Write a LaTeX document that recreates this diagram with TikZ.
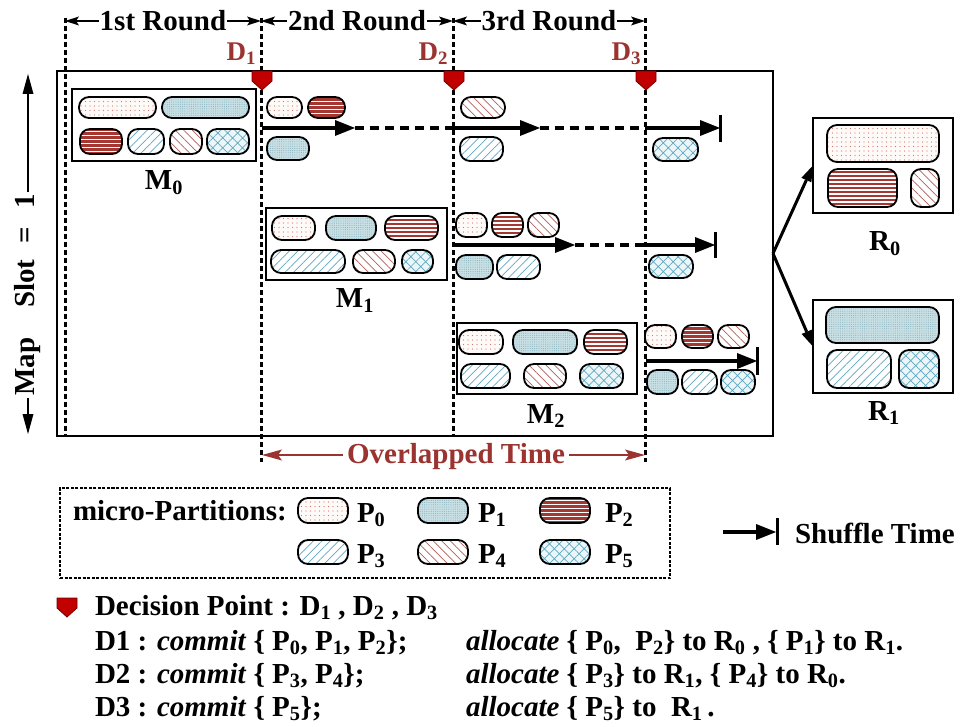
\documentclass[tikz,border=0pt]{standalone}
\usepackage{fontspec}
\setmainfont{Liberation Serif}
\usetikzlibrary{arrows.meta,patterns.meta}

\definecolor{dred}{RGB}{155,52,48}
\definecolor{mred}{RGB}{195,0,0}
\definecolor{mredd}{RGB}{110,0,0}
\definecolor{pdot}{RGB}{205,120,115}
\definecolor{pbgzero}{RGB}{254,250,248}
\definecolor{pbgone}{RGB}{200,223,228}
\definecolor{pdotone}{RGB}{120,168,180}
\definecolor{pstripe}{RGB}{165,55,50}
\definecolor{pblue}{RGB}{95,168,192}
\definecolor{predl}{RGB}{178,95,90}
\definecolor{pbgfive}{RGB}{236,246,249}

\newcommand\fbig{\fontsize{29}{34}\selectfont\bfseries}
\newcommand\fdl{\fontsize{27}{32}\selectfont\bfseries}

\tikzset{
 pill/.style={draw=black, line width=1.8pt, inner sep=0pt, outer sep=0pt, rounded corners=10pt},
 pzero/.style={pill, preaction={fill=pbgzero}, pattern={Dots[distance=4.5pt,radius=0.6pt]}, pattern color=pdot},
 pone/.style={pill, preaction={fill=pbgone}, pattern={Dots[distance=2.2pt,radius=0.45pt]}, pattern color=pdotone},
 ptwo/.style={pill, fill=white, path picture={
   \foreach \k in {-24,-20,...,24}
     \draw[pstripe, line width=2.1pt] ([yshift=\k pt]path picture bounding box.west) -- ([yshift=\k pt]path picture bounding box.east);}},
 pthree/.style={pill, preaction={fill=white}, pattern={Lines[angle=45,distance=6pt,line width=0.7pt]}, pattern color=pblue},
 pfour/.style={pill, preaction={fill=white}, pattern={Lines[angle=-45,distance=6pt,line width=0.7pt]}, pattern color=predl},
 pfive/.style={pill, preaction={fill=pbgfive}, pattern={Hatch[angle=45,distance=7pt,line width=0.7pt]}, pattern color=pblue},
 mbox/.style={draw=black, line width=1.3pt, inner sep=0pt, outer sep=0pt},
 vdash/.style={line width=3pt, dash pattern=on 5pt off 3pt},
 sarrow/.style={line width=4pt, -{Triangle[length=20pt,width=16pt,line width=0pt]}},
 darrow/.style={line width=4pt, dash pattern=on 9pt off 6pt},
 barline/.style={line width=3pt},
 rndarrow/.style={line width=2pt, -{Stealth[length=14pt,width=9pt,inset=3pt,line width=0pt]}},
 ovarrow/.style={draw=dred, line width=2pt, -{Stealth[length=20pt,width=11pt,inset=4pt,line width=0pt]}},
 rarrow/.style={line width=3pt, -{Triangle[length=16pt,width=11pt,line width=0pt]}},
 msarrow/.style={line width=2pt, -{Triangle[length=20pt,width=11pt,line width=0pt]}},
 dmark/.style={fill=mred, draw=mredd, line width=0.8pt},
 lbl/.style={inner sep=0pt, outer sep=0pt},
}

\newcommand\pl[6]{\node[#1, minimum width={(#4-#2)*1pt}, minimum height={(#5-#3)*1pt}] (#6) at ({(#2+#4)/2},{(#3+#5)/2}) {};}
\newcommand\bx[5]{\node[mbox, minimum width={(#3-#1)*1pt}, minimum height={(#4-#2)*1pt}] (#5) at ({(#1+#3)/2},{(#2+#4)/2}) {};}
\newcommand\dmk[2]{\path[dmark] ({#1-10},{#2}) -- ({#1+10},{#2}) -- ({#1+10},{#2+10}) -- ({#1},{#2+19}) -- ({#1-10},{#2+10}) -- cycle;}

\begin{document}
\begin{tikzpicture}[x=1pt, y=-1pt, font=\fbig]
\useasboundingbox (0,0) rectangle (975,727);

% main box
\node[draw=black, line width=2.5pt, inner sep=0pt, outer sep=0pt, minimum width=716pt, minimum height=365pt] (main) at (415,253.5) {};

% dashed verticals
\coordinate (v0t) at (65,18);  \coordinate (v0b) at (65,436);
\coordinate (v1t) at (261,18); \coordinate (v1b) at (261,462);
\coordinate (v2t) at (453,18); \coordinate (v2b) at (453,436);
\coordinate (v3t) at (645,18); \coordinate (v3b) at (645,462);
\draw[vdash] (v0t) -- (v0b);
\draw[vdash] (v1t) -- (v1b);
\draw[vdash] (v2t) -- (v2b);
\draw[vdash] (v3t) -- (v3b);

% round labels
\node[lbl, inner sep=1pt] (rd1) at (163,21) {1st Round};
\node[lbl, inner sep=1pt] (rd2) at (357,21) {2nd Round};
\node[lbl, inner sep=1pt] (rd3) at (549,21) {3rd Round};
\coordinate (h0) at (65,21); \coordinate (h1) at (261,21);
\coordinate (h2) at (453,21); \coordinate (h3) at (645,21);
\draw[rndarrow] (rd1.west) -- (h0);
\draw[rndarrow] (rd1.east) -- (h1);
\draw[rndarrow] (rd2.west) -- (h1);
\draw[rndarrow] (rd2.east) -- (h2);
\draw[rndarrow] (rd3.west) -- (h2);
\draw[rndarrow] (rd3.east) -- (h3);

% decision labels and markers
\node[lbl, font=\fdl, text=dred, anchor=base east] (d1) at (256,61) {D\textsubscript{1}};
\node[lbl, font=\fdl, text=dred, anchor=base east] (d2) at (448,61) {D\textsubscript{2}};
\node[lbl, font=\fdl, text=dred, anchor=base east] (d3) at (641,61) {D\textsubscript{3}};
\dmk{262}{71}
\dmk{454}{71}
\dmk{646}{71}

% boxes
\bx{72}{89}{256}{161}{M0}
\bx{266}{208}{447}{280}{M1}
\bx{457}{323}{637}{394}{M2}
\bx{813}{118}{953}{213}{R0}
\bx{813}{300}{953}{393}{R1}
\node[lbl, anchor=base] (m0l) at (164,190) {M\textsubscript{0}};
\node[lbl, anchor=base] (m1l) at (355,308) {M\textsubscript{1}};
\node[lbl, anchor=base] (m2l) at (546,423) {M\textsubscript{2}};
\node[lbl, anchor=base] (r0l) at (885,251) {R\textsubscript{0}};
\node[lbl, anchor=base] (r1l) at (884,420) {R\textsubscript{1}};

% M0 pills
\pl{pzero}{79}{97}{156}{118}{m0a}
\pl{pone}{162}{97}{249}{118}{m0b}
\pl{ptwo}{80}{129}{122}{154}{m0c}
\pl{pthree}{128}{129}{164}{154}{m0d}
\pl{pfour}{170}{129}{202}{154}{m0e}
\pl{pfive}{207}{129}{249}{154}{m0f}
% after D1
\pl{pzero}{267}{97}{302}{118}{s1a}
\pl{ptwo}{308}{97}{345}{118}{s1b}
\pl{pone}{267}{137}{309}{160}{s1c}
% after D2 row 1
\pl{pfour}{461}{97}{505}{118}{s2a}
\pl{pthree}{460}{137}{503}{161}{s2b}
% after D3 row 1
\pl{pfive}{653}{138}{698}{161}{s3a}
% M1 pills
\pl{pzero}{272}{216}{315}{240}{m1a}
\pl{pone}{326}{216}{376}{240}{m1b}
\pl{ptwo}{385}{216}{438}{240}{m1c}
\pl{pthree}{271}{250}{345}{273}{m1d}
\pl{pfour}{353}{250}{395}{273}{m1e}
\pl{pfive}{402}{250}{433}{273}{m1f}
% after D2 row 2
\pl{pzero}{456}{213}{487}{237}{s4a}
\pl{ptwo}{492}{213}{523}{237}{s4b}
\pl{pfour}{528}{213}{559}{237}{s4c}
\pl{pone}{456}{255}{493}{279}{s4d}
\pl{pthree}{497}{255}{540}{279}{s4e}
\pl{pfive}{649}{255}{693}{278}{s5a}
% M2 pills
\pl{pzero}{459}{330}{503}{354}{m2a}
\pl{pone}{513}{330}{577}{354}{m2b}
\pl{ptwo}{584}{330}{627}{354}{m2c}
\pl{pthree}{461}{364}{510}{388}{m2d}
\pl{pfour}{524}{364}{566}{388}{m2e}
\pl{pfive}{580}{364}{623}{388}{m2f}
% after D3 row 3
\pl{pzero}{645}{325}{676}{348}{s6a}
\pl{ptwo}{682}{325}{713}{348}{s6b}
\pl{pfour}{718}{325}{749}{348}{s6c}
\pl{pone}{647}{370}{678}{394}{s6d}
\pl{pthree}{682}{370}{717}{394}{s6e}
\pl{pfive}{721}{370}{755}{394}{s6f}
% R0 / R1 pills
\pl{pzero}{827}{125}{939}{162}{r0a}
\pl{ptwo}{828}{169}{897}{207}{r0b}
\pl{pfour}{911}{169}{939}{207}{r0c}
\pl{pone}{826}{307}{939}{343}{r1a}
\pl{pthree}{827}{350}{891}{388}{r1b}
\pl{pfive}{899}{350}{939}{388}{r1c}

% time arrows row 1
\coordinate (a1s) at (262,128); \coordinate (a1e) at (355,128);
\coordinate (a2s) at (453,128); \coordinate (a2e) at (540,128);
\coordinate (a3s) at (645,128); \coordinate (a3e) at (720,128);
\coordinate (b1t) at (720,115); \coordinate (b1b) at (720,142);
\draw[sarrow] (a1s) -- (a1e);
\draw[darrow] (a1e) -- (a2s);
\draw[sarrow] (a2s) -- (a2e);
\draw[darrow] (a2e) -- (a3s);
\draw[sarrow] (a3s) -- (a3e);
\draw[barline] (b1t) -- (b1b);
% row 2
\coordinate (c1s) at (454,245); \coordinate (c1e) at (575,245);
\coordinate (c2s) at (645,245); \coordinate (c2e) at (715,245);
\coordinate (b2t) at (715,232); \coordinate (b2b) at (715,258);
\draw[sarrow] (c1s) -- (c1e);
\draw[darrow] (c1e) -- (c2s);
\draw[sarrow] (c2s) -- (c2e);
\draw[barline] (b2t) -- (b2b);
% row 3
\coordinate (e1s) at (646,361); \coordinate (e1e) at (757,361);
\coordinate (b3t) at (757,347); \coordinate (b3b) at (757,375);
\draw[sarrow] (e1s) -- (e1e);
\draw[barline] (b3t) -- (b3b);

% arrows to reducers
\draw[rarrow] (main.east) -- (R0.west);
\draw[rarrow] (main.east) -- (R1.west);

% map slot
\node[lbl, rotate=90, inner sep=2pt] (ms) at (28,295) {Map\hspace{30pt}Slot\hspace{16pt}=\hspace{18pt}1};
\coordinate (mst) at (28,74); \coordinate (msb) at (28,434);
\draw[msarrow] (ms.east) -- (mst);
\draw[msarrow] (ms.west) -- (msb);

% overlapped time
\node[lbl, text=dred, anchor=base] (ov) at (456,463) {Overlapped Time};
\coordinate (ovl) at (343,455); \coordinate (ovr) at (569,455);
\coordinate (oll) at (262,455); \coordinate (orr) at (645,455);
\draw[ovarrow] (ovl) -- (oll);
\draw[ovarrow] (ovr) -- (orr);

% legend
\node[draw=black, line width=1.2pt, dash pattern=on 3pt off 1.5pt, inner sep=0pt, minimum width=610pt, minimum height=90pt] (leg) at (365,533) {};
\node[lbl, anchor=base west] (mp) at (73,520) {micro-Partitions:};
\pl{pzero}{298}{498}{348}{523}{l0}
\pl{pone}{418}{498}{468}{523}{l1}
\pl{ptwo}{540}{498}{590}{523}{l2}
\pl{pthree}{298}{540}{348}{564}{l3}
\pl{pfour}{418}{540}{468}{564}{l4}
\pl{pfive}{540}{540}{590}{564}{l5}
\node[lbl, anchor=base west] (t0) at (357,522) {P\textsubscript{0}};
\node[lbl, anchor=base west] (t1) at (478,522) {P\textsubscript{1}};
\node[lbl, anchor=base west] (t2) at (605,522) {P\textsubscript{2}};
\node[lbl, anchor=base west] (t3) at (357,563) {P\textsubscript{3}};
\node[lbl, anchor=base west] (t4) at (478,563) {P\textsubscript{4}};
\node[lbl, anchor=base west] (t5) at (605,563) {P\textsubscript{5}};

% shuffle legend
\coordinate (sh1) at (723,532); \coordinate (sh2) at (776,532);
\coordinate (sht) at (777,518); \coordinate (shb) at (777,545);
\draw[sarrow] (sh1) -- (sh2);
\draw[barline] (sht) -- (shb);
\node[lbl, anchor=base west] (shl) at (795,543) {Shuffle Time};

% decision text
\dmk{67}{598}
\node[lbl, anchor=base west] (dp) at (95,615) {Decision Point : D\textsubscript{1} , D\textsubscript{2} , D\textsubscript{3}};
\node[lbl, anchor=base west] (c1) at (95,650) {D1 : \textit{commit} \{ P\textsubscript{0}, P\textsubscript{1}, P\textsubscript{2}\};};
\node[lbl, anchor=base west] (al1) at (466,650) {\textit{allocate} \{ P\textsubscript{0},\ \ P\textsubscript{2}\} to R\textsubscript{0} , \{ P\textsubscript{1}\} to R\textsubscript{1}.};
\node[lbl, anchor=base west] (c2) at (95,683) {D2 : \textit{commit} \{ P\textsubscript{3}, P\textsubscript{4}\};};
\node[lbl, anchor=base west] (al2) at (466,683) {\textit{allocate} \{ P\textsubscript{3}\} to R\textsubscript{1}, \{ P\textsubscript{4}\} to R\textsubscript{0}.};
\node[lbl, anchor=base west] (c3) at (95,716) {D3 : \textit{commit} \{ P\textsubscript{5}\};};
\node[lbl, anchor=base west] (al3) at (466,716) {\textit{allocate} \{ P\textsubscript{5}\} to\ \ R\textsubscript{1}\,.};
\end{tikzpicture}
\end{document}
